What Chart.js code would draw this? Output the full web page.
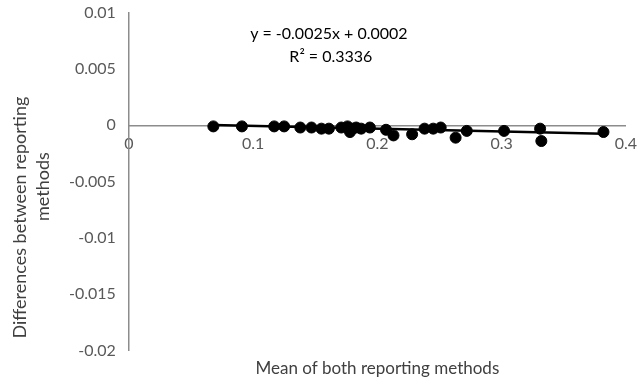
<!DOCTYPE html>
<html>
<head>
<meta charset="utf-8">
<script src="https://cdn.jsdelivr.net/npm/chart.js@4/dist/chart.umd.min.js"></script>
<style>
  html, body { margin: 0; padding: 0; background: #fff; }
  #wrap { width: 638px; height: 383px; }
</style>
</head>
<body>
<div id="wrap"><canvas id="canvasDiff"></canvas></div>
<script>
"use strict";

// mean of both methods (x) and their difference (y)
var meanValues = [0.068, 0.091, 0.117, 0.125, 0.138, 0.147, 0.155, 0.161, 0.171, 0.176,
	0.178, 0.180, 0.183, 0.187, 0.194, 0.207, 0.213, 0.228, 0.238, 0.245,
	0.251, 0.263, 0.272, 0.302, 0.331, 0.332, 0.382];
var diffValues = [-0.0001, -0.0001, -0.0001, -0.0001, -0.0002, -0.0002, -0.0003, -0.0003, -0.0002, -0.0001,
	-0.0006, -0.0003, -0.0002, -0.0003, -0.0002, -0.0004, -0.0009, -0.0008, -0.0003, -0.0003,
	-0.0002, -0.0011, -0.0005, -0.0005, -0.0003, -0.0014, -0.0006];

// linear trend: y = slope * x + intercept
var trendSlope = -0.0025;
var trendIntercept = 0.0002;
var trendR2 = 0.3336;

var xTicks = [0, 0.1, 0.2, 0.3, 0.4];
var yTicks = [0.01, 0.005, 0, -0.005, -0.01, -0.015, -0.02];
var yTitleLines = ['Differences between reporting', 'methods'];

function $each(arr, fn) {
	for (var i = 0; i < arr.length; i++) fn(i, arr[i]);
}

var points = [];
$each(meanValues, function (i, x) {
	points.push({ x: x, y: diffValues[i] });
});

var xMin = Math.min.apply(null, meanValues);
var xMax = Math.max.apply(null, meanValues);
var trendPoints = [
	{ x: xMin, y: trendSlope * xMin + trendIntercept },
	{ x: xMax, y: trendSlope * xMax + trendIntercept }
];

var fontName = "Lato, 'Open Sans', sans-serif";
var axisGrey = '#8c8c8c';
var tickGrey = '#595959';

// equation + R² text above the points, and the rotated two-line y title
var extraText = {
	id: 'extraText',
	afterDraw: function (chart) {
		var ctx = chart.ctx;
		var sx = chart.scales.x;
		var sy = chart.scales.y;
		var area = chart.chartArea;
		var cx = sx.getPixelForValue(0.161);
		var top = sy.getPixelForValue(0.0081);
		ctx.save();
		ctx.fillStyle = '#000';
		ctx.font = '16px ' + fontName;
		ctx.textAlign = 'center';
		ctx.textBaseline = 'middle';
		var slopeTxt = (trendSlope < 0 ? '-' : '') + Math.abs(trendSlope).toFixed(4);
		ctx.fillText('y = ' + slopeTxt + 'x + ' + trendIntercept.toFixed(4), cx, top);
		ctx.fillText('R\u00B2 = ' + trendR2.toFixed(4), cx + 2, top + 23);
		ctx.restore();

		ctx.save();
		ctx.fillStyle = '#404040';
		ctx.font = '18px ' + fontName;
		ctx.textAlign = 'center';
		ctx.textBaseline = 'middle';
		ctx.translate(area.left - 109, area.top + 205);
		ctx.rotate(-Math.PI / 2);
		ctx.fillText(yTitleLines[0], 0, 0);
		ctx.fillText(yTitleLines[1], 31, 23);
		ctx.restore();
	}
};

const context = document.getElementById('canvasDiff');
const myChart = new Chart(context, {
	type: 'scatter',
	data: {
		datasets: [{
			label: 'Differences',
			data: points,
			backgroundColor: '#000',
			borderColor: '#000',
			pointRadius: 5.5,
			pointHoverRadius: 5.5,
			order: 1
		}, {
			label: 'Linear trend',
			type: 'line',
			data: trendPoints,
			borderColor: '#000',
			borderWidth: 2.5,
			pointRadius: 0,
			fill: false,
			order: 2
		}]
	},
	plugins: [extraText],
	options: {
		responsive: true,
		maintainAspectRatio: false,
		animation: false,
		layout: { padding: { top: 0, right: 12, bottom: 4, left: 66 } },
		plugins: {
			legend: { display: false },
			tooltip: { enabled: false }
		},
		scales: {
			x: {
				type: 'linear',
				position: { y: 0 },
				min: 0,
				max: 0.4,
				afterBuildTicks: function (axis) {
					axis.ticks = xTicks.map(function (v) { return { value: v }; });
				},
				ticks: {
					color: tickGrey,
					font: { family: fontName, size: 16 },
					padding: 1,
					maxRotation: 0,
					callback: function (v) { return String(v); }
				},
				grid: { display: false },
				border: { display: true, color: axisGrey, width: 1.5 }
			},
			xTitle: {
				type: 'linear',
				position: 'bottom',
				min: 0,
				max: 0.4,
				ticks: { display: false },
				grid: { display: false, drawTicks: false },
				border: { display: false },
				title: {
					display: true,
					text: 'Mean of both reporting methods',
					color: '#404040',
					font: { family: fontName, size: 17 },
					padding: { top: 8, bottom: 0 }
				}
			},
			y: {
				type: 'linear',
				position: 'left',
				min: -0.02,
				max: 0.01,
				afterBuildTicks: function (axis) {
					axis.ticks = yTicks.map(function (v) { return { value: v }; });
				},
				ticks: {
					color: tickGrey,
					font: { family: fontName, size: 16 },
					padding: 3,
					callback: function (v) { return String(v); }
				},
				// invisible tick marks keep the label gap without extra top padding
				grid: {
					display: true,
					drawOnChartArea: false,
					drawTicks: true,
					tickLength: 10,
					color: 'rgba(0,0,0,0)'
				},
				border: { display: true, color: axisGrey, width: 1.5 }
			}
		}
	}
});
</script>
</body>
</html>
